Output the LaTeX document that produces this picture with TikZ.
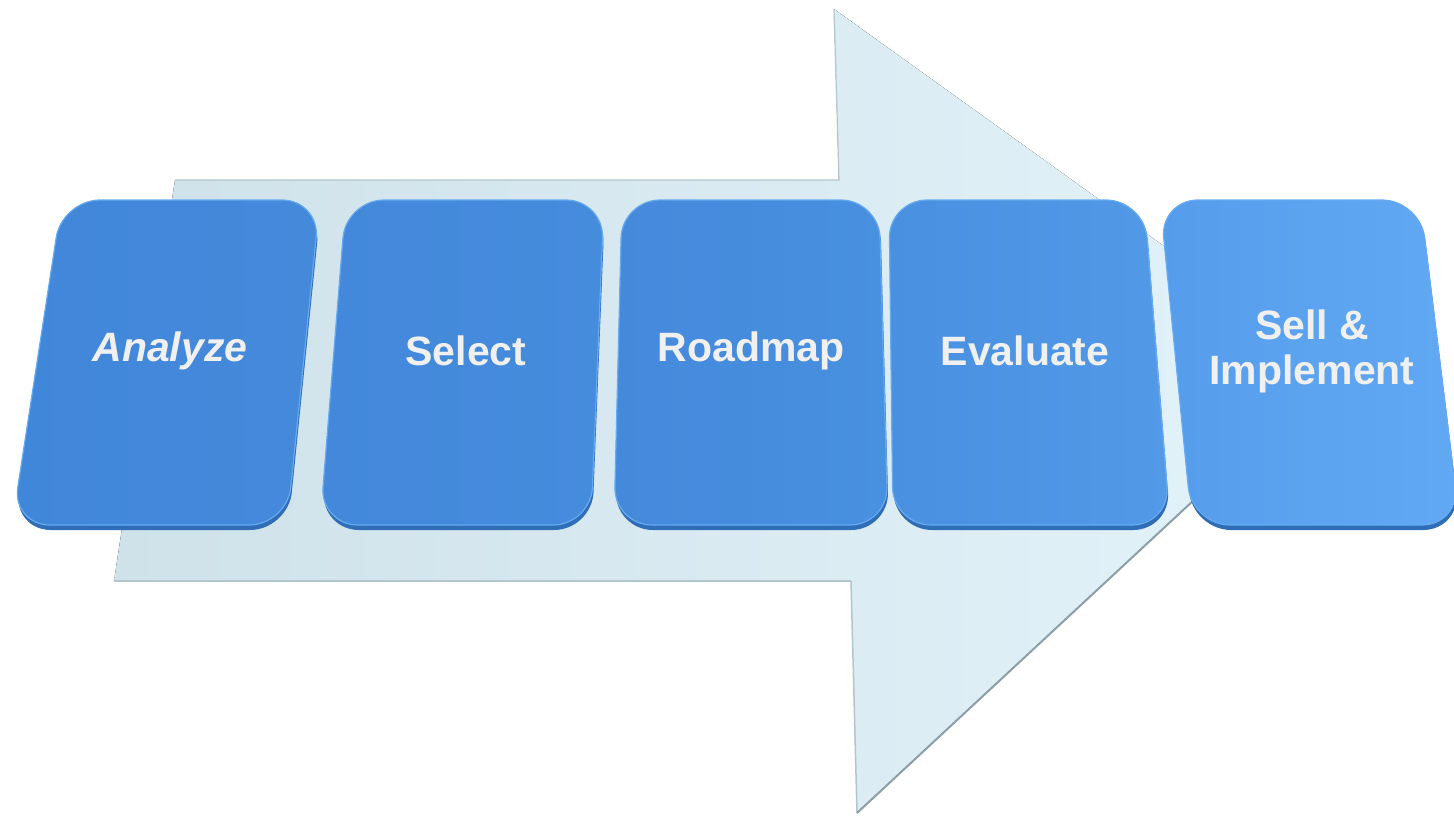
\documentclass[tikz,border=0pt]{standalone}
\usepackage{fontspec}
\setmainfont{Liberation Sans}
\begin{document}
\begin{tikzpicture}[x=1pt,y=-1pt,
  arrowfill/.style={left color=arrowL,right color=arrowR},
  boxbase/.style={fill=boxshadow,rounded corners=38pt},
  boxtop/.style={rounded corners=38pt,draw=boxedge,line width=1.2pt},
  lbl/.style={text=lbltext,font=\fontsize{41}{45}\selectfont\bfseries,align=center,inner sep=0pt}]
\definecolor{arrowL}{HTML}{CFE1E9}
\definecolor{arrowR}{HTML}{E3F3FA}
\definecolor{arrowedge}{HTML}{B3C5CD}
\definecolor{arrowdark}{HTML}{8C9EA6}
\definecolor{boxshadow}{HTML}{2F6DB6}
\definecolor{boxedge}{HTML}{66AAF0}
\definecolor{lbltext}{HTML}{F0F0F0}
\definecolor{cA}{HTML}{4187D9}\definecolor{cB}{HTML}{4589DB}
\definecolor{cC}{HTML}{4388DA}\definecolor{cD}{HTML}{468CDD}
\definecolor{cE}{HTML}{4589DB}\definecolor{cF}{HTML}{4890E0}
\definecolor{cG}{HTML}{4990E0}\definecolor{cH}{HTML}{5299E8}
\definecolor{cI}{HTML}{559CEB}\definecolor{cJ}{HTML}{62A9F4}
\useasboundingbox (0,0) rectangle (1454,816);
\clip (0,0) rectangle (1454,816);
% big arrow (its tip is hidden behind the last box)
\coordinate (s1) at (175,180);
\coordinate (s2) at (839,180);
\coordinate (h1) at (834,9);
\coordinate (tip) at (1335,369);
\coordinate (h2) at (857,813);
\coordinate (s3) at (851,581);
\coordinate (s4) at (114,581);
\fill[arrowfill] (s1) -- (s2) -- (h1) -- (tip) -- (h2) -- (s3) -- (s4) -- cycle;
\draw[arrowedge,line width=1.2pt] (s1) -- (s2) -- (h1);
\draw[arrowedge,line width=1.5pt] (s3) -- (s4);
\draw[arrowedge,line width=1.5pt] (s3) -- (h2);
\draw[arrowdark,line width=2pt] (tip) -- (h2);
% boxes
\foreach \a/\b/\c/\d/\l/\r in {
  {62,200}/{320,200}/{287,525}/{12,525}/cA/cB,
  {346,200}/{604,200}/{591,525}/{320,525}/cC/cD,
  {622,200}/{879,200}/{888,525}/{614,525}/cE/cF,
  {889,200}/{1144,200}/{1170,525}/{893,525}/cG/cH,
  {1160,200}/{1420,200}/{1460,525}/{1192,525}/cI/cJ}{
  \fill[boxbase] ([shift={(1,5)}]\a) -- ([shift={(1,5)}]\b) -- ([shift={(1,5)}]\c) -- ([shift={(1,5)}]\d) -- cycle;
  \shade[boxtop,left color=\l,right color=\r] (\a) -- (\b) -- (\c) -- (\d) -- cycle;
}
% labels
\node[lbl,font=\fontsize{41}{45}\selectfont\bfseries\itshape] (analyze) at (170,351) {Analyze};
\node[lbl] (select) at (466,351) {Select};
\node[lbl] (roadmap) at (751,351) {Roadmap};
\node[lbl] (evaluate) at (1025,351) {Evaluate};
\node[lbl] (sell) at (1312,351) {Sell \&\\Implement};
\end{tikzpicture}
\end{document}
